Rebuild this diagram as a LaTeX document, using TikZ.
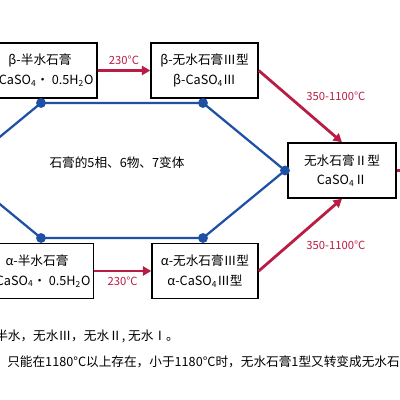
\documentclass[tikz,border=0pt]{standalone}
\usepackage{fontspec}
\setmainfont{Noto Sans CJK SC}
\usetikzlibrary{arrows.meta}
\definecolor{hongse}{RGB}{185,28,68}
\definecolor{lanse}{RGB}{30,80,165}

\begin{document}
\begin{tikzpicture}[x=0.025cm,y=-0.025cm]
\tikzset{hop/.style = {draw, line width=1pt, minimum height=1.375cm, align=center, inner sep=2pt, font=\fontsize{9}{14}\selectfont},
  muiten/.style = {draw=hongse, line width=2pt, -{Triangle[length=6pt,width=6.5pt]}},
  nhan/.style = {text=hongse, font=\fontsize{8}{10}\selectfont},
  cham/.style = {circle, fill=lanse, inner sep=0pt, minimum size=7pt},
  canh/.style = {draw=lanse, line width=1.6pt}}
\useasboundingbox (0,0) rectangle (400,400);
% cac hop
\node[hop, minimum width=2.85cm] (bh) at (40,70.5) {β-半水石膏\\β-CaSO\textsubscript{4}• 0.5H\textsubscript{2}O};
\node[hop, minimum width=2.675cm] (b3) at (204.5,70.5) {β-无水石膏Ⅲ型\\β-CaSO\textsubscript{4}Ⅲ};
\node[hop, minimum width=2.7cm] (r2) at (342,170.5) {无水石膏Ⅱ型\\CaSO\textsubscript{4}Ⅱ};
\node[hop, minimum width=2.75cm] (ah) at (37,271) {α-半水石膏\\α-CaSO\textsubscript{4}• 0.5H\textsubscript{2}O};
\node[hop, minimum width=2.65cm] (a3) at (205,271) {α-无水石膏Ⅲ型\\α-CaSO\textsubscript{4}Ⅲ型};
% luc giac
\node[cham] (d1) at (41,103) {};
\node[cham] (d2) at (203,103) {};
\node[cham] (d3) at (285,170.5) {};
\node[cham] (d4) at (203,238) {};
\node[cham] (d5) at (41,238) {};
\coordinate (d6) at (-41,170.5);
\draw[canh] (d1.center) -- (d2.center) -- (d3.center) -- (d4.center) -- (d5.center) -- (d6) -- cycle;
\node[font=\fontsize{9}{11}\selectfont] (ten) at (117,163) {石膏的5相、6物、7变体};
% mui ten do
\draw[muiten] (bh) -- node[nhan, above] {230°C} (b3);
\draw[muiten] (ah) -- node[nhan, below] {230°C} (a3);
\draw[muiten] (b3.east) -- node[nhan, pos=0.5, anchor=south west] {350-1100°C} (r2.north);
\draw[muiten] (a3.east) -- node[nhan, pos=0.5, anchor=north west] {350-1100°C} (r2.south);
\coordinate (ra) at (420,170.5);
\draw[muiten] (r2.east) -- (ra);
% chu thich
\node[anchor=west, inner sep=0pt, font=\fontsize{9}{11}\selectfont] (g1) at (-5,336) {半水，无水Ⅲ，无水Ⅱ, 无水Ⅰ。};
\node[anchor=west, inner sep=0pt, font=\fontsize{9}{11}\selectfont] (g2) at (7,362) {只能在1180°C以上存在，小于1180°C时，无水石膏1型又转变成无水石};
\end{tikzpicture}
\end{document}
